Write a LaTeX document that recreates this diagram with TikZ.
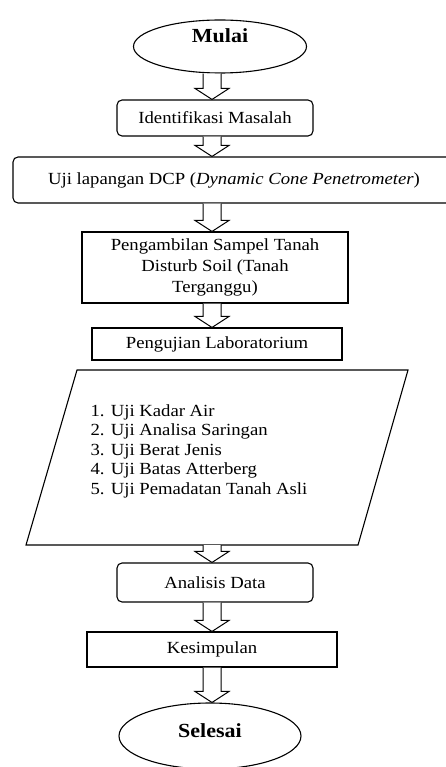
\documentclass[tikz,border=0pt]{standalone}
\usepackage{fontspec}
\setmainfont{Liberation Serif}[FakeStretch=1.1]
\usetikzlibrary{calc,shapes.geometric}

\begin{document}
\begin{tikzpicture}[x=1pt,y=-1pt,line width=1.1pt]
        \tikzset{term/.style = {shape=ellipse,draw,inner sep=0pt,font=\fontsize{20}{24}\selectfont\bfseries}}
        \tikzset{proc/.style = {shape=rectangle,draw,inner sep=0pt,align=center,font=\fontsize{17}{21}\selectfont}}
        \tikzset{procr/.style = {proc,rounded corners=5pt}}
        \tikzset{flow/.style = {draw,fill=white,line width=1pt,
            to path={let \p1=(\tikztostart), \p2=(\tikztotarget) in
              (\x1-9pt,\y1) -- (\x1-9pt,\y2+11pt) -- (\x1-17pt,\y2+11pt) -- (\x2,\y2)
              -- (\x1+17pt,\y2+11pt) -- (\x1+9pt,\y2+11pt) -- (\x1+9pt,\y1)}}}
        \useasboundingbox (0,0) rectangle (446,767);
        % steps
        \node[term,minimum width=173pt,minimum height=53pt,text height=14pt,text depth=22pt] (mulai) at (220,46.5) {Mulai};
        \node[procr,minimum width=196pt,minimum height=36pt] (ident) at (215,118) {Identifikasi Masalah};
        \node[procr,minimum width=442pt,minimum height=46pt] (dcp) at (234,180) {Uji lapangan DCP (\textit{Dynamic Cone Penetrometer})};
        \node[proc,minimum width=266pt,minimum height=71pt] (ambil) at (215,267.5) {Pengambilan Sampel Tanah\\Disturb Soil (Tanah\\Terganggu)};
        \node[proc,minimum width=250pt,minimum height=32pt] (lab) at (217,344) {Pengujian Laboratorium};

        % input/output box
        \coordinate (ujitl) at (77,370);
        \coordinate (ujitr) at (408,370);
        \coordinate (ujibr) at (358,545);
        \coordinate (ujibl) at (26,545);
        \coordinate (ujibot) at (212,545);
        \draw (ujitl) -- (ujitr) -- (ujibr) -- (ujibl) -- cycle;
        \node[anchor=north west,inner sep=0pt,align=left,font=\fontsize{17}{19.5}\selectfont] (ujilist) at (90,404)
          {1. Uji Kadar Air\\2. Uji Analisa Saringan\\3. Uji Berat Jenis\\4. Uji Batas Atterberg\\5. Uji Pemadatan Tanah Asli};

        \node[procr,minimum width=196pt,minimum height=39pt] (analisis) at (215,582.5) {Analisis Data};
        \node[proc,minimum width=250pt,minimum height=35pt] (simpul) at (212,649.5) {Kesimpulan};
        \node[term,minimum width=182pt,minimum height=66pt,text height=14pt,text depth=11pt] (selesai) at (210,736) {Selesai};

        %arrows
        \coordinate (axis) at (212,0);
        \draw[flow] (mulai.south -| axis) to (ident.north -| axis);
        \draw[flow] (ident.south -| axis) to (dcp.north -| axis);
        \draw[flow] (dcp.south -| axis) to (ambil.north -| axis);
        \draw[flow] (ambil.south -| axis) to (lab.north -| axis);
        \draw[flow] (ujibot) to (analisis.north -| axis);
        \draw[flow] (analisis.south -| axis) to (simpul.north -| axis);
        \draw[flow] (simpul.south -| axis) to (selesai.north -| axis);
\end{tikzpicture}
\end{document}
